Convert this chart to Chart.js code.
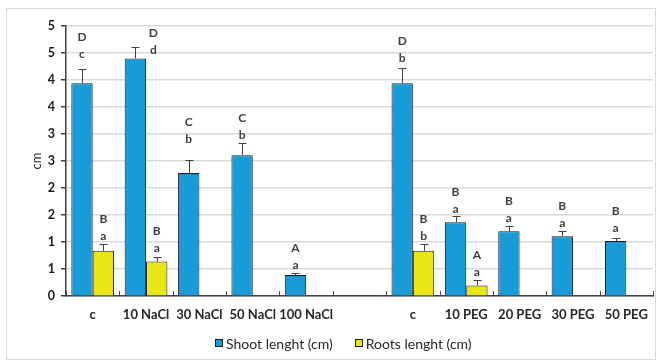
<!DOCTYPE html>
<html>
<head>
<meta charset="utf-8">
<script src="https://cdn.jsdelivr.net/npm/chart.js@4.4.1/dist/chart.umd.min.js"></script>
<style>
  html, body { margin: 0; padding: 0; background: #fff; }
  #wrap { position: relative; width: 660px; height: 362px; }
  #wrap canvas { position: absolute; left: 0; top: 0; }
  #frame { position: absolute; left: 6px; top: 8px; width: 650px; height: 352px;
           border: 1px solid #d9d9d9; box-sizing: border-box; pointer-events: none; }
  #legend { position: absolute; left: 215px; top: 335px; height: 16px; display: flex; align-items: center;
            font: 14px Lato, "Liberation Sans", sans-serif; color: #262626; white-space: nowrap; }
  #legend .item { display: flex; align-items: center; margin-right: 22px; }
  #legend .box { width: 8px; height: 8px; border: 1px solid #1a1a1a; margin-right: 3px; box-sizing: border-box; }
</style>
</head>
<body>
<div id="wrap">
  <canvas id="chart" width="660" height="362"></canvas>
  <div id="frame"></div>
  <div id="legend"></div>
</div>
<script>
// data
const categories = ['c', '10 NaCl', '30 NaCl', '50 NaCl', '100 NaCl', '', 'c', '10 PEG', '20 PEG', '30 PEG', '50 PEG'];
const shootLength = [3.94, 4.40, 2.28, 2.61, 0.39, null, 3.94, 1.37, 1.20, 1.11, 1.02];
const shootError  = [0.27, 0.21, 0.24, 0.23, 0.04, null, 0.28, 0.12, 0.09, 0.10, 0.06];
const shootUpper  = ['D', 'D', 'C', 'C', 'A', '', 'D', 'B', 'B', 'B', 'B'];
const shootLower  = ['c', 'd', 'b', 'b', 'a', '', 'b', 'a', 'a', 'a', 'a'];
const rootLength  = [0.84, 0.64, null, null, null, null, 0.84, 0.20, null, null, null];
const rootError   = [0.12, 0.09, null, null, null, null, 0.12, 0.10, null, null, null];
const rootUpper   = ['B', 'B', '', '', '', '', 'B', 'A', '', '', ''];
const rootLower   = ['a', 'a', '', '', '', '', 'b', 'a', '', '', ''];
const yTicks = [0, 0.5, 1, 1.5, 2, 2.5, 3, 3.5, 4, 4.5, 5];

// letter placement tweaks (px) – the original labels were nudged by hand
const shootLift  = [15, -3, 21, 8, 8, 0, 10, 7, 8, 8, 10];
const shootShift = [0, 18, 0, 0, 0, 0, 0, 0, 0, 0, 0];
const rootLift   = [8, 9, 0, 0, 0, 0, 8, 8, 0, 0, 0];

const FONT = 'Lato, "Liberation Sans", sans-serif';

const errorBars = {
  id: 'errorBars',
  afterDatasetsDraw(chart) {
    const { ctx, scales: { y } } = chart;
    ctx.save();
    chart.data.datasets.forEach((ds, i) => {
      const meta = chart.getDatasetMeta(i);
      meta.data.forEach((bar, j) => {
        const v = ds.data[j], e = ds.errors[j];
        if (v == null || e == null) return;
        const top = Math.round(y.getPixelForValue(v + e)) + 0.5;
        const x = Math.round(bar.x) + 0.5;
        ctx.strokeStyle = '#404040';
        ctx.lineWidth = 1;
        ctx.beginPath();
        ctx.moveTo(x, bar.y);
        ctx.lineTo(x, top);
        ctx.moveTo(x - 4, top);
        ctx.lineTo(x + 4, top);
        ctx.stroke();

        // significance letters
        const lx = bar.x + (ds.shift ? ds.shift[j] : 0);
        const ly = top - ds.lift[j];
        ctx.fillStyle = '#404040';
        ctx.font = 'bold 12px ' + FONT;
        ctx.textAlign = 'center';
        ctx.textBaseline = 'middle';
        ctx.fillText(ds.lower[j], lx, ly);
        ctx.fillText(ds.upper[j], lx, ly - 17);
      });
    });
    ctx.restore();
  }
};

// small inside tick marks on the category axis
const innerTicks = {
  id: 'innerTicks',
  afterDraw(chart) {
    const { ctx, scales: { x }, chartArea } = chart;
    ctx.save();
    ctx.strokeStyle = '#404040';
    ctx.lineWidth = 1;
    ctx.beginPath();
    for (let k = 0; k <= categories.length; k++) {
      const px = Math.round(x.getPixelForValue(k - 0.5)) + 0.5;
      ctx.moveTo(px, chartArea.bottom);
      ctx.lineTo(px, chartArea.bottom - 5);
    }
    ctx.stroke();
    ctx.restore();
  }
};

const chart = new Chart(document.getElementById('chart'), {
  type: 'bar',
  data: {
    labels: categories,
    datasets: [
      {
        label: 'Shoot lenght (cm)',
        data: shootLength,
        errors: shootError,
        upper: shootUpper,
        lower: shootLower,
        lift: shootLift,
        shift: shootShift,
        backgroundColor: '#189BD7',
        borderColor: '#1a1a1a',
        borderWidth: 1,
        categoryPercentage: 0.8,
        barPercentage: 1.0
      },
      {
        label: 'Roots lenght (cm)',
        data: rootLength,
        errors: rootError,
        upper: rootUpper,
        lower: rootLower,
        lift: rootLift,
        backgroundColor: '#E8E615',
        borderColor: '#1a1a1a',
        borderWidth: 1,
        categoryPercentage: 0.8,
        barPercentage: 1.0
      }
    ]
  },
  options: {
    responsive: false,
    animation: false,
    layout: { padding: { top: 26, right: 7, bottom: 28.2, left: 0 } },
    plugins: {
      legend: { display: false },
      tooltip: { enabled: false }
    },
    scales: {
      x: {
        grid: { display: true, drawOnChartArea: false, drawTicks: false },
        border: { color: '#404040', width: 1.5 },
        ticks: {
          padding: 11,
          color: '#262626',
          maxRotation: 0,
          autoSkip: false,
          font: { family: FONT, size: 13, weight: 'bold' }
        }
      },
      y: {
        min: 0,
        max: 5,
        afterBuildTicks: (scale) => { scale.ticks = yTicks.map(v => ({ value: v })); },
        afterFit: (scale) => { scale.width = 66; },
        grid: { color: '#d9d9d9', lineWidth: 1.5, tickLength: 5, tickColor: '#404040' },
        border: { color: '#404040', width: 1.5 },
        title: {
          display: true,
          text: 'cm',
          color: '#262626',
          padding: { top: 29, bottom: 0 },
          font: { family: FONT, size: 13 }
        },
        ticks: {
          padding: 6,
          color: '#1a1a1a',
          font: { family: FONT, size: 12.5, weight: 'bold' },
          callback: (v) => String(Math.round(v))
        }
      }
    }
  },
  plugins: [errorBars, innerTicks]
});

// legend built from the chart's datasets
const legendEl = document.getElementById('legend');
chart.data.datasets.forEach(ds => {
  const item = document.createElement('span');
  item.className = 'item';
  const box = document.createElement('span');
  box.className = 'box';
  box.style.background = ds.backgroundColor;
  const label = document.createElement('span');
  label.textContent = ds.label;
  item.appendChild(box);
  item.appendChild(label);
  legendEl.appendChild(item);
});
</script>
</body>
</html>
